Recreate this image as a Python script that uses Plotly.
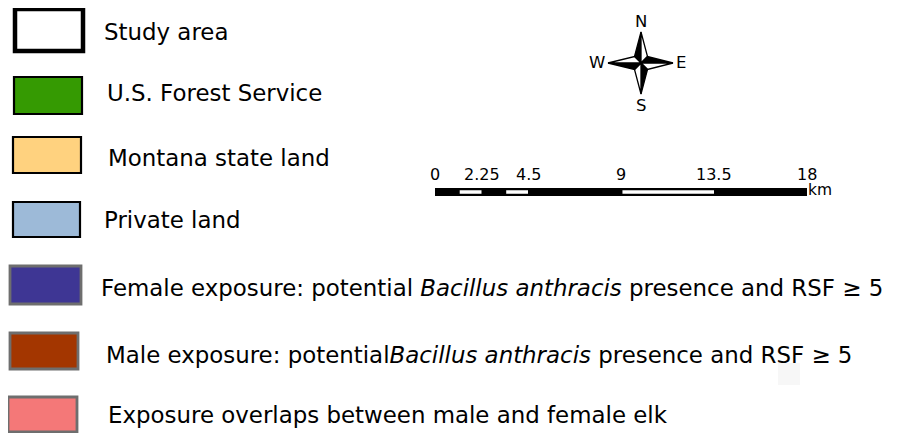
import plotly.graph_objects as go

# ---------------- data ----------------
legend_labels = [
    "Study area",
    "U.S. Forest Service",
    "Montana state land",
    "Private land",
    "Female exposure: potential <i>Bacillus anthracis</i> presence and RSF ≥ 5",
    "Male exposure: potential<i>Bacillus anthracis</i> presence and RSF ≥ 5",
    "Exposure overlaps between male and female elk",
]
legend_fills = ["#ffffff", "#359a02", "#ffd27f", "#9dbad8", "#3e3694", "#a33600", "#f47878"]
legend_borders = ["#000000", "#000000", "#000000", "#000000", "#6e6e6e", "#6e6e6e", "#6e6e6e"]

scale_ticks_km = [0, 2.25, 4.5, 9, 13.5, 18]
scale_tick_labels = ["0", "2.25", "4.5", "9", "13.5", "18"]
scale_white_segments_km = [(1.125, 2.25), (3.375, 4.5), (9, 13.5)]
scale_unit = "km"
compass_labels = ["N", "E", "S", "W"]

# ---------------- layout (page pixel positions) ----------------
W, H = 898, 433
PAGE_MARGIN = 8  # default body margin of the html page
FONT = "DejaVu Sans"
box_pos = [
    (15, 9, 83, 51),
    (14, 77, 82, 114),
    (13, 137, 81, 173),
    (13, 202, 80, 237),
    (10, 266, 81, 304),
    (10, 333, 78, 369),
    (8, 397, 77, 432),
]
box_lw = [4.5, 2.2, 2.2, 2.2, 2.8, 2.8, 2.8]
text_x = [102, 105, 106, 102, 99, 104, 106]
text_y = [31, 91.5, 156.5, 218.5, 286.5, 353.5, 414]
TEXT_SIZE = 22.9
TEXT_DY = 1.0

fig = go.Figure()
fig.add_trace(go.Scatter(x=[PAGE_MARGIN, W], y=[PAGE_MARGIN, H], mode="markers", marker=dict(opacity=0),
                         hoverinfo="skip", showlegend=False, xaxis="x", yaxis="y"))
fig.add_trace(go.Scatter(x=scale_ticks_km, y=[0.5] * len(scale_ticks_km), mode="markers",
                         marker=dict(opacity=0), hoverinfo="skip", showlegend=False,
                         xaxis="x2", yaxis="y2"))

shapes = []
annotations = []

for lab, fc, bc, (x0, y0, x1, y1), lw, tx, ty in zip(
        legend_labels, legend_fills, legend_borders, box_pos, box_lw, text_x, text_y):
    shapes.append(dict(type="rect", xref="x", yref="y", x0=x0, y0=y0, x1=x1, y1=y1,
                       fillcolor=fc, line=dict(color=bc, width=lw), layer="above"))
    annotations.append(dict(xref="x", yref="y", x=tx, y=ty + TEXT_DY, text=lab,
                            showarrow=False, xanchor="left", yanchor="middle",
                            font=dict(family=FONT, size=TEXT_SIZE, color="#000000")))

shapes.append(dict(type="rect", xref="x", yref="y", x0=778, y0=363, x1=800, y1=385,
                   fillcolor="#f7f7f7", line=dict(width=0), layer="below"))

# ---------------- scale bar (km axis) ----------------
BAR_L, BAR_R, BAR_TOP, BAR_BOT = 435, 807, 188, 196
FW, FH = W - PAGE_MARGIN, H - PAGE_MARGIN


def xdom(px):
    return (px - PAGE_MARGIN) / FW


def ydom(py):
    return 1 - (py - PAGE_MARGIN) / FH


shapes.append(dict(type="rect", xref="x2", yref="y2", x0=scale_ticks_km[0], x1=scale_ticks_km[-1],
                   y0=0, y1=1, fillcolor="#000000", line=dict(width=0)))
for a, b in scale_white_segments_km:
    shapes.append(dict(type="rect", xref="x2", yref="y2", x0=a + 0.07, x1=b, y0=0.28, y1=0.72,
                       fillcolor="#ffffff", line=dict(width=0)))
for v, t in zip(scale_ticks_km, scale_tick_labels):
    annotations.append(dict(xref="x2", yref="y", x=v, y=174, text=t, showarrow=False,
                            xanchor="center", yanchor="middle",
                            font=dict(family=FONT, size=16, color="#000000")))
annotations.append(dict(xref="x", yref="y", x=806, y=190, text=scale_unit, showarrow=False,
                        xanchor="left", yanchor="middle",
                        font=dict(family=FONT, size=15.5, color="#000000")))

# ---------------- compass ----------------
cx, cy, L, r = 641, 63, 31, 6.5
tips = {"N": (cx, cy - L), "E": (cx + L + 1, cy), "S": (cx, cy + L), "W": (cx - L - 2, cy)}
inner = {"NE": (cx + r, cy - r), "SE": (cx + r, cy + r), "SW": (cx - r, cy + r), "NW": (cx - r, cy - r)}
arms = [("N", "NW", "NE"), ("E", "NE", "SE"), ("S", "SE", "SW"), ("W", "SW", "NW")]


def tri(p1, p2, p3):
    return f"M {p1[0]},{p1[1]} L {p2[0]},{p2[1]} L {p3[0]},{p3[1]} Z"


for tip, blk, wht in arms:
    t = tips[tip]
    shapes.append(dict(type="path", xref="x", yref="y", path=tri(t, (cx, cy), inner[blk]),
                       fillcolor="#000000", line=dict(color="#000000", width=1.3)))
    shapes.append(dict(type="path", xref="x", yref="y", path=tri(t, (cx, cy), inner[wht]),
                       fillcolor="#ffffff", line=dict(color="#000000", width=1.3)))

compass_pos = {"N": (641, 21), "E": (681, 62), "S": (641, 105), "W": (597, 62)}
for lab in compass_labels:
    x, y = compass_pos[lab]
    annotations.append(dict(xref="x", yref="y", x=x, y=y, text=lab, showarrow=False,
                            xanchor="center", yanchor="middle",
                            font=dict(family=FONT, size=16.5, color="#000000")))

fig.update_layout(
    width=FW, height=FH,
    margin=dict(l=0, r=0, t=0, b=0),
    paper_bgcolor="#ffffff", plot_bgcolor="#ffffff",
    showlegend=False,
    xaxis=dict(range=[PAGE_MARGIN, W], visible=False, domain=[0, 1], fixedrange=True),
    yaxis=dict(range=[H, PAGE_MARGIN], visible=False, domain=[0, 1], fixedrange=True),
    xaxis2=dict(range=[0, 18], domain=[xdom(BAR_L), xdom(BAR_R)], anchor="y2", visible=False),
    yaxis2=dict(range=[0, 1], domain=[ydom(BAR_BOT), ydom(BAR_TOP)], anchor="x2", visible=False),
    shapes=shapes,
    annotations=annotations,
)

fig.write_html("out.html", config={"displayModeBar": False})
